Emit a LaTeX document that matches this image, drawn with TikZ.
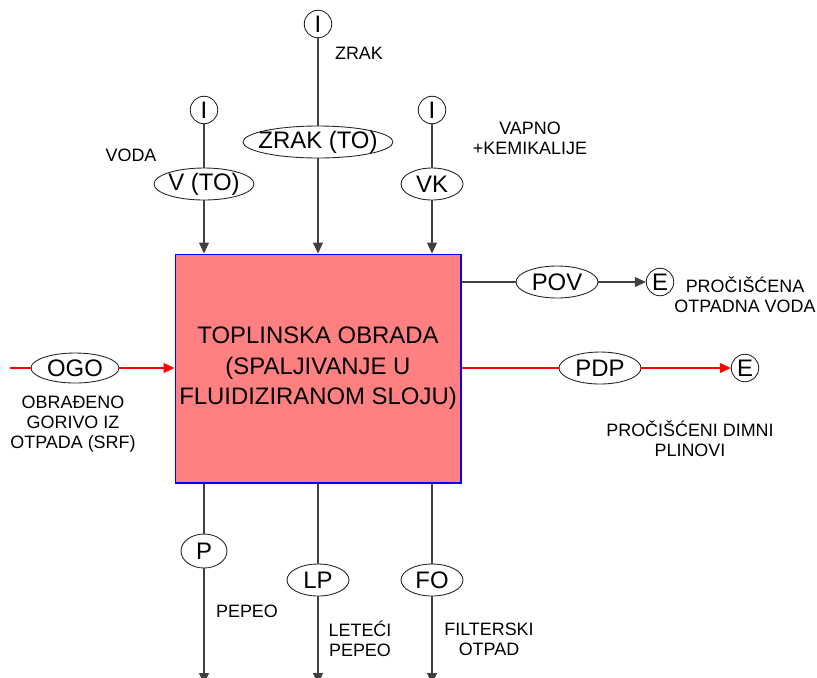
\documentclass[tikz,border=0pt]{standalone}
\usepackage{fontspec}
\setmainfont{Liberation Sans}
\usetikzlibrary{arrows.meta, positioning, shapes.geometric}
\definecolor{boxred}{RGB}{255,128,128}
\tikzset{
  proc/.style={rectangle, draw=blue, fill=boxred, line width=0.6pt,
               inner xsep=0pt, minimum width=5.72cm, minimum height=4.58cm,
               align=center, font=\fontsize{13.6}{17.4}\selectfont},
  flow/.style={ellipse, draw=black!85, fill=white, line width=0.5pt,
               inner xsep=-4pt, inner ysep=0pt, minimum height=0.64cm,
               font=\fontsize{13.6}{15}\selectfont},
  term/.style={circle, draw=black!85, fill=white, line width=0.5pt,
               inner sep=0pt, minimum size=0.55cm,
               font=\fontsize{13.6}{15}\selectfont},
  line/.style={draw=black!75, line width=0.6pt},
  redline/.style={draw=red, line width=0.6pt},
  arrow/.style={line, -{Triangle[length=0.22cm, width=0.2cm]}},
  redarrow/.style={redline, -{Triangle[length=0.22cm, width=0.2cm]}},
  label/.style={font=\fontsize{10.2}{11.4}\selectfont, align=center, inner sep=0pt},
}
\begin{document}
\begin{tikzpicture}[x=0.02cm, y=-0.02cm]
  \useasboundingbox (0,0) rectangle (817,677);

  % main process
  \node[proc] (box) at (318,368.5)
    {TOPLINSKA OBRADA\\(SPALJIVANJE U\\FLUIDIZIRANOM SLOJU)};

  % inputs from above
  \node[term] (iv) at (204,110) {I};
  \node[term] (iz) at (318,24) {I};
  \node[term] (ik) at (432,110) {I};
  \node[flow, minimum width=2cm] (vto) at (204,184) {V (TO)};
  \node[flow, minimum width=3cm] (zto) at (318,142) {ZRAK (TO)};
  \node[flow, minimum width=1.24cm] (vk) at (432,184) {VK};

  \draw[line] (iv) -- (vto); \draw[arrow] (vto) -- (vto |- box.north);
  \draw[line] (iz) -- (zto); \draw[arrow] (zto) -- (zto |- box.north);
  \draw[line] (ik) -- (vk);  \draw[arrow] (vk) -- (vk |- box.north);

  \node[label] (lvoda) at (131,155) {VODA};
  \node[label] (lzrak) at (359,53) {ZRAK};
  \node[label] (lvapno) at (530,138) {VAPNO\\+KEMIKALIJE};

  % input from the left
  \coordinate (ogoin) at (10,368);
  \node[flow, minimum width=1.76cm, minimum height=0.6cm] (ogo) at (75,368) {OGO};
  \draw[redline] (ogoin) -- (ogo);
  \draw[redarrow] (ogo) -- (ogo -| box.west);
  \node[label] (logo) at (73,424) {OBRAĐENO\\GORIVO IZ\\OTPADA (SRF)};

  % outputs to the right
  \node[flow, minimum width=1.64cm] (pov) at (557,282) {POV};
  \node[term] (e1) at (660,282) {E};
  \draw[line] (pov -| box.east) -- (pov);
  \draw[arrow] (pov) -- (e1);
  \node[label] (lpov) at (745,295) {PROČIŠĆENA\\OTPADNA VODA};

  \node[flow, minimum width=1.64cm] (pdp) at (600,368) {PDP};
  \node[term] (e2) at (745,368) {E};
  \draw[redline] (pdp -| box.east) -- (pdp);
  \draw[redarrow] (pdp) -- (e2);
  \node[label] (lpdp) at (690,439) {PROČIŠĆENI DIMNI\\PLINOVI};

  % outputs below
  \node[flow, minimum width=0.92cm, minimum height=0.68cm] (p) at (204,551) {P};
  \node[flow, minimum width=1.24cm] (lp) at (318,580) {LP};
  \node[flow, minimum width=1.24cm] (fo) at (432,580) {FO};
  \coordinate (pout) at (204,684);
  \coordinate (lpout) at (318,684);
  \coordinate (foout) at (432,684);

  \draw[line] (p |- box.south) -- (p);   \draw[arrow] (p) -- (pout);
  \draw[line] (lp |- box.south) -- (lp); \draw[arrow] (lp) -- (lpout);
  \draw[line] (fo |- box.south) -- (fo); \draw[arrow] (fo) -- (foout);

  \node[label] (lpep) at (247,611) {PEPEO};
  \node[label] (llp) at (360,639) {LETEĆI\\PEPEO};
  \node[label] (lfo) at (489,639) {FILTERSKI\\OTPAD};
\end{tikzpicture}
\end{document}
